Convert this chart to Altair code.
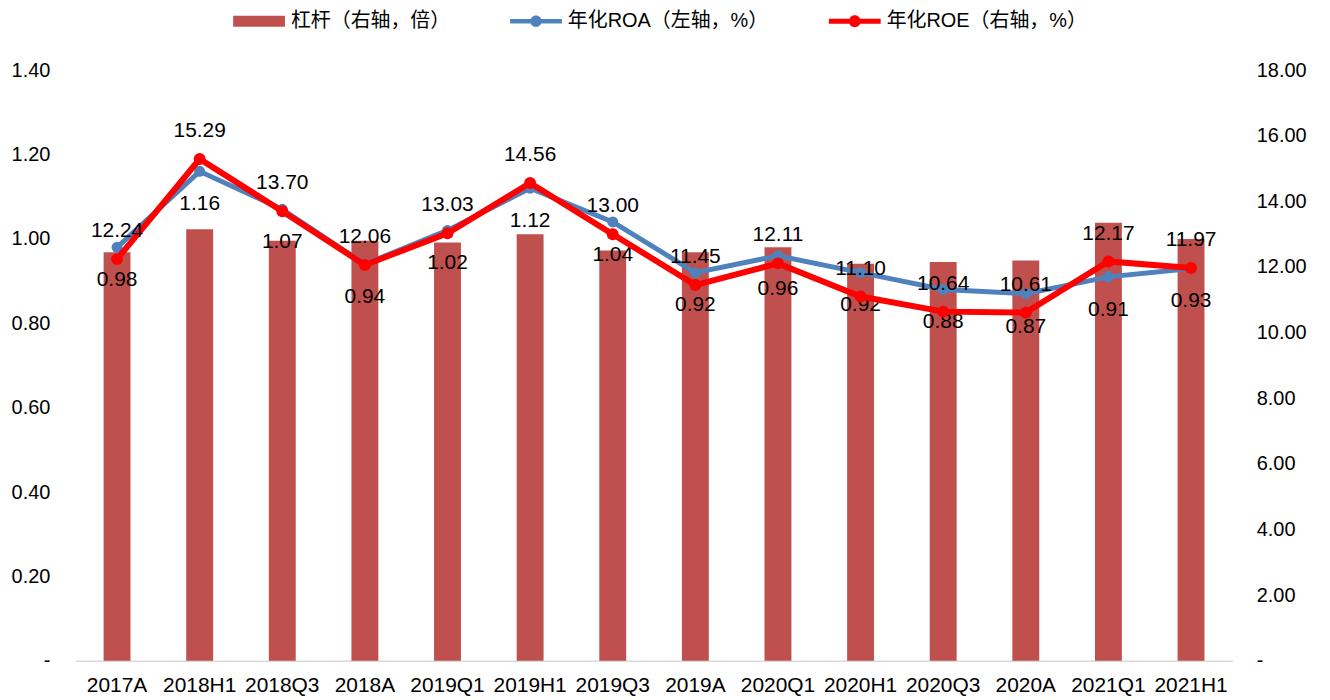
import altair as alt
import pandas as pd

categories = ["2017A", "2018H1", "2018Q3", "2018A", "2019Q1", "2019H1", "2019Q3",
              "2019A", "2020Q1", "2020H1", "2020Q3", "2020A", "2021Q1", "2021H1"]
leverage = [12.45, 13.15, 12.80, 12.80, 12.75, 13.00, 12.50,
            12.45, 12.60, 12.10, 12.15, 12.20, 13.35, 12.85]
roa = [0.98, 1.16, 1.07, 0.94, 1.02, 1.12, 1.04,
       0.92, 0.96, 0.92, 0.88, 0.87, 0.91, 0.93]
roe = [12.24, 15.29, 13.70, 12.06, 13.03, 14.56, 13.00,
       11.45, 12.11, 11.10, 10.64, 10.61, 12.17, 11.97]

series_names = ["杠杆（右轴，倍）", "年化ROA（左轴，%）", "年化ROE（右轴，%）"]
series_colors = ["#C0504D", "#4F81BD", "#FF0000"]
legend_shapes = [
    "M-1,-0.21H1V0.21H-1Z",
    "M-1,-0.09H1V0.09H-1Z M0.22,0A0.22,0.22,0,1,1,-0.22,0A0.22,0.22,0,1,1,0.22,0Z",
    "M-1,-0.1H1V0.1H-1Z M0.23,0A0.23,0.23,0,1,1,-0.23,0A0.23,0.23,0,1,1,0.23,0Z",
]

df = pd.DataFrame({"cat": categories, "lev": leverage, "roa": roa, "roe": roe})
legend_df = pd.DataFrame({"series": series_names, "v": [None, None, None]})

FONT = "Liberation Sans, Arial, Noto Sans CJK SC"

x_enc = alt.X(
    "cat:N", sort=categories,
    scale=alt.Scale(paddingInner=0, paddingOuter=0),
    axis=alt.Axis(title=None, labelAngle=0, labelFontSize=21, labelFont=FONT,
                  labelColor="black", labelPadding=14, ticks=False, tickSize=0,
                  domainColor="#D9D9D9", domainWidth=1.5, grid=False),
)

# Bars: leverage on right axis
bars = alt.Chart(df).mark_bar(color="#C0504D", size=27).encode(
    x=x_enc,
    y=alt.Y("lev:Q", scale=alt.Scale(domain=[0, 18], nice=False, zero=True),
            axis=alt.Axis(orient="right", title=None, values=list(range(0, 19, 2)),
                          labelExpr="datum.value == 0 ? '-' : format(datum.value, '.2f')",
                          labelFontSize=20, labelFont=FONT, labelColor="black",
                          labelPadding=24, ticks=False, tickSize=0, domain=False, grid=False)),
)

roa_y = alt.Y("roa:Q", scale=alt.Scale(domain=[0, 1.4], nice=False, zero=True),
              axis=alt.Axis(orient="left", title=None,
                            values=[0, 0.2, 0.4, 0.6, 0.8, 1.0, 1.2, 1.4],
                            labelExpr="datum.value == 0 ? '-\u00a0\u00a0' : format(datum.value, '.2f')",
                            labelFontSize=20, labelFont=FONT, labelColor="black",
                            labelPadding=26, ticks=False, tickSize=0, domain=False, grid=False))

roa_base = alt.Chart(df).encode(x=x_enc, y=roa_y)
roa_layer = alt.layer(
    roa_base.mark_line(color="#4F81BD", strokeWidth=5),
    roa_base.mark_point(color="#4F81BD", filled=True, opacity=1, size=121, shape="circle"),
    roa_base.mark_text(fontSize=21, font=FONT, color="black", baseline="middle", dy=33).encode(
        text=alt.Text("roa:Q", format=".2f")),
)

roe_y = alt.Y("roe:Q", scale=alt.Scale(domain=[0, 18], nice=False, zero=True), axis=None)
roe_base = alt.Chart(df).encode(x=x_enc, y=roe_y)

legend_layer = alt.Chart(legend_df).mark_point(filled=True, opacity=1).encode(
    y=alt.Y("v:Q", axis=None),
    color=alt.Color("series:N", title=None,
                    scale=alt.Scale(domain=series_names, range=series_colors)),
    shape=alt.Shape("series:N", title=None,
                    scale=alt.Scale(domain=series_names, range=legend_shapes)),
)

roe_layer = alt.layer(
    roe_base.mark_line(color="#FF0000", strokeWidth=6),
    roe_base.mark_point(color="#FF0000", filled=True, opacity=1, size=144, shape="circle"),
    roe_base.mark_text(fontSize=21, font=FONT, color="black", baseline="middle", dy=-28).encode(
        text=alt.Text("roe:Q", format=".2f")),
    legend_layer,
)

chart = alt.layer(bars, roa_layer, roe_layer).resolve_scale(
    y="independent"
).properties(
    width=1161, height=593,
    autosize=alt.AutoSizeParams(type="none"),
    padding={"left": 68, "top": 61, "right": 90, "bottom": 39},
).configure_view(
    stroke=None
).configure_legend(
    orient="none", legendX=158, legendY=-75, direction="horizontal", columns=3,
    symbolSize=2704, symbolStrokeWidth=0, labelFontSize=20, labelFont=FONT,
    labelColor="black", labelLimit=400, columnPadding=60, labelOffset=6, padding=0,
)

chart.save("out.html", embed_options={"renderer": "svg", "actions": False})
